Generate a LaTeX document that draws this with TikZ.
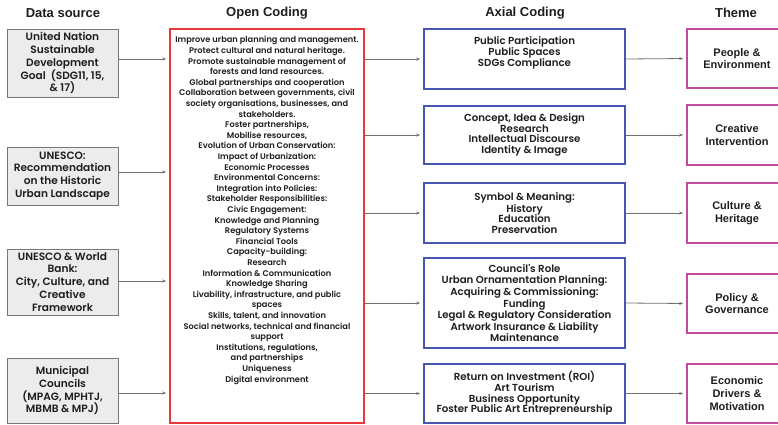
\documentclass[tikz,border=0pt]{standalone}
\usepackage{fontspec}
\setmainfont{Liberation Sans}
\newfontfamily\geo{Poppins SemiBold}
\usetikzlibrary{arrows.meta}
\definecolor{inkc}{RGB}{30,30,30}
\definecolor{srcfill}{RGB}{236,236,236}
\definecolor{srcline}{RGB}{120,120,120}
\definecolor{openred}{RGB}{232,56,60}
\definecolor{axblue}{RGB}{70,84,178}
\definecolor{thpink}{RGB}{196,74,160}
\definecolor{linkgray}{RGB}{112,112,112}
\tikzset{
  head/.style={font=\bfseries\fontsize{13}{15}\selectfont, text=inkc},
  srcbox/.style={draw=srcline, line width=0.9pt, fill=srcfill, minimum width=111pt,
    align=center, inner sep=1pt, text=inkc, font=\geo\fontsize{10.6}{12.9}\selectfont},
  openbox/.style={draw=openred, line width=1.6pt, minimum width=194pt, minimum height=394pt},
  opentext/.style={align=center, inner sep=0pt, text=inkc, font=\geo\fontsize{8.25}{10.6}\selectfont},
  axbox/.style={draw=axblue, line width=1.6pt, minimum width=201pt, align=center,
    inner sep=1pt, text=inkc, font=\geo\fontsize{10.2}{10.7}\selectfont},
  thbox/.style={draw=thpink, line width=1.6pt, minimum width=100pt, align=center,
    inner sep=1pt, text=inkc, font=\bfseries\fontsize{11}{12.8}\selectfont},
  link/.style={draw=linkgray, line width=0.8pt, -{Stealth[length=4pt,width=3pt]}, shorten >=3pt}
}
\begin{document}
\begin{tikzpicture}[x=1pt,y=-1pt]
\useasboundingbox (0,0) rectangle (778,425);

% column headings
\node[head] (h1) at (63,13) {Data source};
\node[head] (h2) at (267,13) {Open Coding};
\node[head] (h3) at (525,13) {Axial Coding};
\node[head] (h4) at (736,13) {Theme};

% data sources
\node[srcbox, minimum height=68pt] (ds1) at (62.5,63)
  {United Nation\\Sustainable\\Development\\Goal\ \ (SDG11, 15,\\\& 17)};
\node[srcbox, minimum height=58pt] (ds2) at (62.5,176)
  {UNESCO:\\Recommendation\\on the Historic\\Urban Landscape};
\node[srcbox, minimum height=66pt] (ds3) at (62.5,282)
  {UNESCO \& World\\Bank:\\City, Culture, and\\Creative\\Framework};
\node[srcbox, minimum height=65pt] (ds4) at (62.5,390.5)
  {Municipal\\Councils\\(MPAG, MPHTJ,\\MBMB \& MPJ)};

% open coding
\node[openbox] (oc) at (267,226) {};
\node[opentext, anchor=north] (octx) at ([yshift=-8pt]oc.north) {%
Improve urban planning and management.\\
Protect cultural and natural heritage.\\
Promote sustainable management of\\
forests and land resources.\\
Global partnerships and cooperation\\
Collaboration between governments, civil\\
society organisations, businesses, and\\
stakeholders.\\
Foster partnerships,\\
Mobilise resources,\\
Evolution of Urban Conservation:\\
Impact of Urbanization:\\
Economic Processes\\
Environmental Concerns:\\
Integration into Policies:\\
Stakeholder Responsibilities:\\
Civic Engagement:\\
Knowledge and Planning\\
Regulatory Systems\\
Financial Tools\\
Capacity-building:\\
Research\\
Information \& Communication\\
Knowledge Sharing\\
Livability, infrastructure, and public\\
spaces\\
Skills, talent, and innovation\\
Social networks, technical and financial\\
support\\
Institutions, regulations,\\
and partnerships\\
Uniqueness\\
Digital environment};

% axial coding
\node[axbox, minimum height=60pt] (ax1) at (524.5,59)
  {Public Participation\\Public Spaces\\SDGs Compliance\\[4pt]};
\node[axbox, minimum height=58pt] (ax2) at (524.5,135)
  {Concept, Idea \& Design\\Research\\Intellectual Discourse\\Identity \& Image};
\node[axbox, minimum height=60pt] (ax3) at (524.5,213)
  {Symbol \& Meaning:\\History\\Education\\Preservation};
\node[axbox, minimum height=90pt] (ax4) at (524.5,303)
  {Council's Role\\Urban Ornamentation Planning:\\Acquiring \& Commissioning:\\Funding\\Legal \& Regulatory Consideration\\Artwork Insurance \& Liability\\Maintenance};
\node[axbox, minimum height=59pt] (ax5) at (524.5,393.5)
  {Return on Investment (ROI)\\Art Tourism\\Business Opportunity\\Foster Public Art Entrepreneurship};

% themes
\node[thbox, minimum height=59pt] (th1) at (737,58.5) {People \&\\Environment};
\node[thbox, minimum height=60pt] (th2) at (737,135) {Creative\\Intervention};
\node[thbox, minimum height=60pt] (th3) at (737,213) {Culture \&\\Heritage};
\node[thbox, minimum height=59pt] (th4) at (737,303.5) {Policy \&\\Governance};
\node[thbox, minimum height=59pt] (th5) at (737,393.5) {Economic\\Drivers \&\\Motivation};

% data sources -> open coding
\draw[link] ([yshift=4pt]ds1.east) -- ([yshift=4pt]ds1.east -| oc.west);
\draw[link] ([yshift=4pt]ds2.east) -- ([yshift=4pt]ds2.east -| oc.west);
\draw[link] ([yshift=1pt]ds3.east) -- ([yshift=1pt]ds3.east -| oc.west);
\draw[link] ([yshift=-2.5pt]ds4.east) -- ([yshift=-2.5pt]ds4.east -| oc.west);

% open coding -> axial coding
\foreach \a in {ax1,ax2,ax3,ax4,ax5}
  \draw[link] (\a.west -| oc.east) -- (\a.west);

% axial coding -> themes
\draw[link] (ax1.east) -- (th1.west);
\draw[link] (ax2.east) -- (th2.west);
\draw[link] (ax3.east) -- (th3.west);
\draw[link] (ax4.east) -- (th4.west);
\draw[link] (ax5.east) -- (th5.west);
\end{tikzpicture}
\end{document}
